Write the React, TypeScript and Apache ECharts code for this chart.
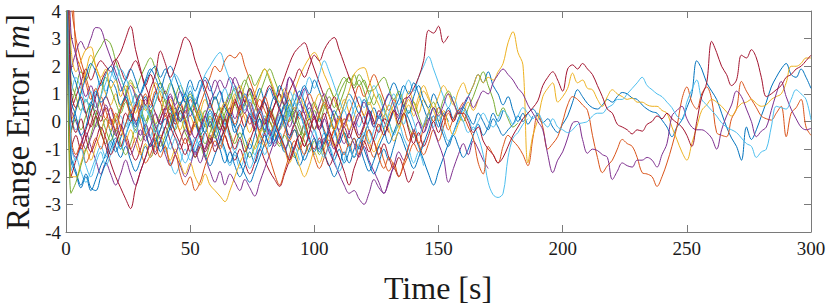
import React, { useEffect, useRef } from "react";
import * as echarts from "echarts";

// MATLAB default colour order
const BLUE = "#0072BD";
const ORANGE = "#D95319";
const YELLOW = "#EDB120";
const PURPLE = "#7E2F8E";
const GREEN = "#77AC30";
const CYAN = "#4DBEEE";
const RED = "#A2142F";

const TIME_STEP = 2; // seconds between samples
const X_MIN = 0;
const X_MAX = 300;
const X_INTERVAL = 50;
const Y_MIN = -4;
const Y_MAX = 4;
const Y_INTERVAL = 1;

// ---- long runs (0 - 300 s) ----
const longBlue = [
  9, 0.8, 0.2, -0.5, -0.2, 0.6, 1.1, 0.7, 0.9, 1.5,
  1.2, 0.6, 0.9, 0.3, -0.2, 0.2, -0.4, -0.9, -0.6, -1.1,
  -0.7, -0.2, 0.3, 0.0, 0.5, 0.9, 0.6, 1.2, 1.6, 1.3,
  0.8, 1.1, 0.5, 0.2, -0.4, -0.1, -0.6, -1.0, -0.5, 0.1,
  -0.3, 0.4, 0.9, 0.5, 0.0, -0.6, -0.3, -0.9, -1.4, -1.0,
  -0.6, -1.1, -0.7, -0.2, 0.4, 0.1, 0.6, 1.0, 0.7, 0.3,
  0.8, 0.4, -0.2, 0.2, -0.3, -0.8, -0.4, 0.1, 0.6, 0.3,
  0.9, 1.3, 0.8, 0.5, 1.0, 0.6, 0.2, 0.5, 0.1, 0.4,
  0.5, 0.2, -0.1, 0.3, 0.0, -0.3, 0.1, -0.2, -0.5, -0.3,
  -0.1, 0.2, 0.0, 0.3, 0.45, 0.2, -0.05, 0.1, -0.2, -0.4,
  -0.1, 0.2, 0.7, 1.15, 0.9, 0.65, 0.5, 0.45, 0.6, 0.8,
  0.7, 0.9, 1.05, 1.0, 0.85, 0.8, 0.6, 0.45, 0.35, 0.3,
  0.05, -0.2, -0.55, -0.2, 0.05, 0.5, 1.0, 2.2, 1.9, 1.4,
  1.1, 0.8, 0.3, -0.2, -0.6, -0.9, -1.4, -0.2, -0.65, -0.3,
  0.2, 0.7, 1.25, 1.6, 1.9, 2.1, 1.7, 1.6, 1.9, 1.6,
  1.2,
];
const longOrange = [
  10, -0.5, -1.2, -0.8, -1.5, -1.1, -0.6, -1.0, -0.4, 0.1,
  -0.3, 0.4, 0.8, 0.3, 0.6, 0.0, -0.5, -0.2, -0.8, -1.3,
  -0.9, -1.6, -1.2, -1.9, -2.3, -2.0, -2.5, -2.2, -1.6, -1.1,
  -0.7, -1.0, -0.4, 0.2, -0.1, 0.5, 0.9, 0.5, 0.1, -0.4,
  -0.8, -1.3, -1.9, -2.3, -1.8, -1.2, -0.7, -1.0, -0.5, 0.1,
  -0.3, 0.3, 0.7, 0.2, -0.3, 0.1, -0.5, -0.9, -0.6, -1.2,
  -0.8, -0.3, -0.7, -1.3, -1.7, -1.3, -1.6, -2.0, -1.5, -0.9,
  -0.4, -0.8, -0.2, 0.3, 0.0, 0.5, 0.2, -0.3, 0.1, 0.4,
  0.2, -0.2, -0.6, -1.5, -1.9, -0.9, -1.2, -1.5, -0.9, -0.5,
  -0.7, -0.9, -1.2, -1.6, -0.6, 0.3, -0.2, -1.0, -0.8, -0.55,
  0.0, 0.6, 0.9, 0.8, 0.6, 0.4, -0.5, -1.3, -1.85, -1.6,
  -1.4, -1.0, -0.65, -0.8, -0.9, -1.3, -1.85, -1.9, -2.0, -2.35,
  -2.0, -1.5, -0.9, -0.2, 0.8, 1.25, 0.7, 0.45, 1.0, 1.25,
  0.8, -0.4, -0.5, -0.55, 0.1, 0.45, 1.45, 1.1, 0.8, 0.5,
  0.2, 0.1, 0.05, 0.3, 0.55, -0.55, 0.3, 0.5, 0.8, -0.2,
  -0.5,
];
const longYellow = [
  8, 2.7, 1.8, 2.2, 2.6, 2.7, 2.0, 1.6, 1.9, 1.2,
  1.5, 0.9, 1.3, 0.7, 0.3, 0.8, 0.4, 0.9, 1.4, 1.0,
  0.5, 0.8, 0.2, -0.3, 0.1, -0.4, -0.1, 0.4, 0.0, -0.6,
  -0.2, 0.3, 0.7, 0.3, 0.9, 1.3, 0.9, 0.5, 1.0, 1.5,
  1.9, 1.6, 1.1, 0.7, 1.2, 0.8, 0.4, 0.9, 0.5, 0.1,
  0.6, 1.0, 0.6, 0.2, -0.3, 0.1, 0.6, 1.1, 1.7, 1.9,
  1.95, 1.5, 1.0, 0.6, 0.2, 0.6, 0.3, -0.2, 0.3, 0.8,
  0.4, 0.9, 1.3, 0.9, 0.5, 0.9, 1.3, 1.0, 0.6, 1.1,
  1.4, 1.0, 1.3, 1.7, 1.4, 1.6, 1.5, 1.8, 2.1, 2.85,
  3.25, 2.5, 2.05, -1.5, -0.5, 0.06, 0.9, 1.2, 1.4, 0.7,
  0.9, 1.2, 1.75, 1.4, 1.5, 1.2, 1.15, 0.8, 0.55, 0.9,
  1.15, 1.0, 0.9, 0.8, 0.85, 0.7, 0.7, 0.6, 0.55, 0.55,
  0.4, 0.3, -0.2, -0.65, -1.1, -1.4, -0.8, -0.2, 0.4, 0.6,
  0.8, 0.7, 0.55, 0.35, 0.2, 0.45, 0.65, 0.7, 0.8, 0.65,
  0.55, 0.6, 0.8, 0.9, 1.0, 1.4, 2.0, 2.0, 2.1, 2.3,
  2.3,
];
const longPurple = [
  9, 3.2, 2.4, 1.5, 0.9, 1.3, 0.7, 0.2, 0.6, 0.0,
  -0.5, -0.1, -0.7, -1.2, -0.8, -0.3, -0.7, -0.2, 0.3, -0.1,
  0.4, 0.9, 0.5, 0.0, 0.4, -0.2, -0.6, -0.3, 0.2, 0.7,
  1.1, 1.5, 1.2, 1.6, 1.3, 0.8, 0.3, 0.7, 0.2, -0.3,
  0.1, -0.5, -0.1, 0.5, 1.0, 1.6, 1.3, 0.8, 1.2, 0.7,
  0.2, -0.3, 0.1, -0.5, -1.0, -0.6, -0.1, 0.3, -0.2, 0.2,
  0.7, 0.3, -0.2, 0.2, 0.6, 1.0, 0.6, 0.1, 0.5, 0.9,
  0.5, 0.0, -0.4, 0.0, 0.5, 0.2, 0.6, 1.0, 0.7, 0.3,
  0.6, 0.9, 0.5, 0.8, 1.1, 1.0, 1.4, 1.7, 1.9, 1.7,
  1.5, 1.2, 1.0, 0.6, 0.3, 0.0, -0.3, -1.2, -1.85, -1.4,
  -1.1, -0.6, -0.05, 0.0, -0.65, -1.15, -1.0, -1.05, -1.2, -1.3,
  -2.1, -1.8, -1.5, -1.6, -1.65, -1.4, -1.4, -1.3, -1.4, -1.65,
  -1.2, -0.8, 0.2, 0.4, 0.55, 0.1, -0.2, -0.3, -0.3, -0.4,
  -0.6, -1.0, -0.3, 0.2, 0.6, 1.1, 0.9, 0.45, 0.0, -0.55,
  -0.35, -0.2, 0.4, 1.0, 1.45, 0.9, 0.45, 0.1, -0.2, -0.3,
  -0.25,
];
const longCyan = [
  11, -0.8, -1.4, -1.0, -1.6, -2.0, -1.5, -1.1, -1.6, -1.2,
  -0.7, -1.0, -0.5, 0.0, -0.4, 0.2, 0.6, 0.2, 0.7, 1.2,
  0.8, 1.3, 1.7, 1.4, 0.9, 1.3, 0.8, 1.2, 1.7, 2.0,
  2.3, 2.5, 2.0, 1.5, 1.1, 0.6, 1.0, 0.5, 0.0, 0.4,
  -0.1, -0.6, -0.3, 0.2, -0.2, 0.3, 0.7, 0.3, -0.2, -0.7,
  -0.3, -0.9, -1.3, -0.9, -1.4, -1.8, -1.4, -0.9, -1.3, -0.8,
  -0.4, -0.8, -0.3, 0.2, -0.2, 0.3, 0.7, 0.3, -0.1, 0.4,
  0.0, -0.5, -0.1, 0.3, -0.2, 0.2, -0.3, -0.7, -0.4, 0.0,
  0.4, 0.1, -0.3, 0.0, 0.3, 0.0, -0.2, 0.1, 0.4, 0.2,
  -0.1, 0.2, 0.5, 0.3, 0.1, 0.3, 0.0, -0.2, 0.1, -0.2,
  -0.3, -0.4, -0.3, -0.1, -0.05, 0.0, 0.2, 0.3, 0.3, 0.5,
  0.6, 0.8, 0.8, 1.0, 1.2, 1.4, 1.6, 1.3, 1.15, 1.0,
  0.9, 0.7, 0.5, 0.2, 0.06, 0.7, 1.15, 1.5, 0.8, 0.6,
  0.4, 0.2, -0.05, -0.2, -0.3, -0.4, -0.6, -0.8, -0.9, -1.3,
  -1.1, -1.0, -0.2, 0.55, 0.5, 0.45, 0.8, 1.15, 1.0, 0.8,
  0.06,
];
const longRed = [
  12, 0.3, -0.4, 0.1, -0.6, -1.1, -0.7, -0.2, -0.6, -1.2,
  -0.8, -0.3, 0.3, 0.0, 0.6, 1.0, 0.6, 1.2, 1.7, 2.55,
  2.1, 1.6, 2.0, 2.6, 3.05, 2.85, 2.2, 1.7, 1.2, 0.7,
  0.2, -0.3, 0.1, -0.5, -1.0, -0.6, -1.1, -0.7, -0.2, 0.3,
  -0.1, 0.4, 0.0, -0.5, -0.9, -1.4, -1.0, -0.5, -0.9, -0.4,
  0.2, -0.2, 0.3, -0.3, -0.8, -1.3, -1.8, -2.3, -1.7, -1.2,
  -0.7, -1.1, -0.6, -0.1, -0.5, 0.0, 0.4, -0.1, 0.3, -0.3,
  -0.8, -0.4, -0.9, -0.5, 0.0, -0.4, 0.1, 0.4, 0.0, 0.3,
  0.3, 0.0, -0.4, -0.2, -0.7, -1.0, -1.2, -1.5, -1.3, -0.9,
  -0.5, -0.2, 0.1, 0.3, 0.5, 0.75, 1.3, 1.6, 1.8, 1.5,
  1.1, 1.9, 2.05, 1.9, 2.1, 1.9, 1.7, 1.3, 0.9, 0.45,
  0.3, -0.1, -0.2, -0.3, -0.45, -0.3, -0.35, -0.1, 0.0, 0.2,
  0.1, 0.3, 0.1, -0.05, -0.2, -0.5, -0.9, 0.0, 0.9, 1.4,
  2.9, 2.5, 2.0, 1.7, 1.3, 1.5, 2.4, 2.3, 2.6, 2.3,
  1.6, 0.9, 1.0, 1.15, 1.3, 1.6, 1.7, 1.9, 2.0, 2.2,
  2.4,
];

// ---- medium runs (end 150 - 190 s) ----
const medCyan = [
  10, 1.0, 1.6, 1.2, 0.7, 1.1, 0.5, 0.9, 1.4, 1.8,
  1.5, 1.9, 1.6, 1.1, 0.6, 1.0, 0.5, 0.1, -0.4, 0.0,
  -0.5, -1.0, -0.6, -1.1, -1.5, -1.1, -0.6, -0.9, -0.4, 0.1,
  -0.3, 0.3, -0.1, -0.6, -1.1, -0.7, -1.2, -1.7, -1.3, -0.8,
  -1.2, -0.7, -0.2, 0.3, 0.0, 0.5, 1.0, 0.6, 1.1, 1.6,
  1.2, 1.7, 2.2, 1.8, 1.3, 0.8, 0.4, 0.8, 0.3, -0.2,
  0.2, -0.3, -0.7, -0.3, 0.2, 0.6, 1.0, 0.6, 1.1, 1.5,
  1.1, 1.6, 2.0, 2.35, 1.9, 1.4, 0.9, 0.5, 0.9, 0.4,
  0.0, -0.4, -0.2, -0.55, -1.2, -2.2, -2.65, -2.75, -2.6, -1.3,
  -0.6, -0.4, -0.1, 0.1,
];
const medGreen = [
  9, -2.6, -2.2, -1.6, -1.0, -0.5, 0.2, 0.9, 1.6, 1.2,
  0.7, 0.3, 0.7, 0.2, -0.3, 0.1, 0.6, 0.2, -0.4, -0.9,
  -0.5, 0.0, 0.5, 0.1, 0.6, 1.0, 0.5, 0.0, 0.4, -0.1,
  -0.6, -0.2, 0.3, 0.8, 1.2, 0.8, 1.3, 1.7, 1.3, 1.6,
  1.9, 1.5, 1.0, 0.5, 0.0, 0.4, -0.1, -0.5, -0.1, 0.3,
  0.7, 0.3, 0.8, 1.2, 0.9, 1.3, 1.6, 1.4, 1.7, 1.3,
  1.5, 1.1, 1.15, 1.4, 1.6, 1.2, 0.8, 1.1, 0.7, 0.3,
  0.7, 0.2, -0.2, 0.3, 0.7, 0.3, 0.8, 1.1, 0.7, 0.3,
  0.0, 0.5, 0.9, 1.4, 1.8, 1.3, 0.8, 0.2, 0.5, 0.1,
  -0.2, -0.05,
];
const medRed = [
  10, 1.2, 0.5, 0.9, 0.3, -0.2, 0.2, -0.4, -0.9, -1.5,
  -2.0, -2.4, -2.8, -3.15, -2.4, -1.8, -1.3, -0.8, -1.2, -0.7,
  -0.2, 0.3, -0.1, 0.4, 0.0, -0.5, -0.1, -0.6, -1.1, -0.7,
  -0.2, 0.2, -0.3, 0.3, 0.8, 0.4, 0.9, 0.5, 0.0, 0.4,
  0.9, 1.3, 0.9, 0.4, 0.0, -0.5, -0.1, 0.4, 0.0, -0.6,
  -1.0, -0.6, -1.1, -1.6, -1.2, -0.7, -0.2, -0.6, -0.1, 0.3,
  -0.1, 0.4, 0.0, -0.4, 0.1, 0.0, 0.4, 0.2, 0.8, 0.9,
  1.2, 1.6, 2.2, 3.3, 3.2, 3.45, 2.85, 3.1,
];
const medBlue = [
  11, -1.2, -1.8, -2.3, -1.9, -2.4, -2.5, -2.0, -1.5, -1.0,
  -0.6, -1.0, -0.5, 0.0, 0.5, 1.0, 1.5, 1.9, 1.6, 1.2,
  1.7, 2.0, 1.6, 1.1, 0.7, 1.1, 0.6, 0.1, -0.4, 0.0,
  -0.5, -1.0, -1.5, -1.1, -1.6, -2.0, -1.6, -1.1, -1.5, -1.0,
  -0.5, -0.9, -0.4, 0.1, 0.6, 0.2, 0.7, 1.1, 0.7, 0.2,
  -0.3, 0.1, -0.4, -0.9, -1.4, -1.0, -1.5, -1.1, -0.6, -1.0,
  -0.5, 0.0, 0.5, 0.1, 0.6, 1.0, 1.4, 1.0, 0.5, 0.1,
  -0.4, -0.9, -1.4, -1.9, -2.3, -1.8, -1.3, -0.8, -0.4, 0.1,
  0.5, 0.9, 1.3, 1.7, 1.4, 1.8, 1.3, 1.0, 0.6, 0.9,
  0.4, 0.0, 0.3, -0.1, 0.2,
];
const medPurple = [
  9, 1.9, 2.5, 2.9, 2.6, 3.0, 3.4, 3.35, 2.8, 2.3,
  1.8, 1.3, 0.8, 0.4, 0.0, -0.5, -0.1, -0.6, -1.1, -0.7,
  -1.2, -1.6, -1.2, -0.7, -0.3, -0.7, -1.2, -0.8, -1.3, -1.8,
  -2.2, -1.8, -2.3, -1.9, -2.2, -2.5, -2.1, -2.4, -2.7, -2.2,
  -1.7, -1.2, -0.7, -0.3, 0.2, -0.2, 0.3, 0.7, 0.3, -0.2,
  -0.6, -1.0, -0.6, -1.1, -1.5, -1.9, -2.3, -2.6, -2.5, -2.8,
  -3.0, -2.6, -2.1, -2.4, -2.6, -2.1, -1.6, -1.1, -1.4, -0.9,
  -0.4, 0.0, -0.4, 0.1, -0.3, -0.8, -1.3, -2.2, -1.7, -1.2,
  -0.8, -1.2, -0.7, -1.0, -1.4, -1.7,
];
const medOrange = [
  14, 7, 2.5, 1.9, 1.4, 0.8, 1.2, 0.6, 0.1, 0.5,
  0.0, -0.5, -0.1, 0.4, 0.0, 0.5, 1.0, 0.6, 1.1, 0.7,
  0.2, 0.6, 0.1, -0.4, -0.8, -0.4, 0.1, 0.6, 1.1, 1.6,
  2.0, 1.8, 2.2, 2.4, 2.3, 2.5, 2.0, 1.5, 1.0, 0.5,
  0.9, 0.4, -0.1, 0.3, -0.2, -0.7, -0.3, -0.8, -1.2, -0.8,
  -1.3, -1.7, -1.3, -0.8, -0.3, 0.2, -0.2, 0.3, 0.8, 1.3,
  0.9, 1.3, 1.7, 1.3, 0.8, 0.4, 0.8, 0.3, -0.2, -0.7,
  -0.3, -0.8, -1.2, -0.8, -0.3, -0.7, -0.2, 0.3, 0.0, 0.4,
  0.7,
];
const medBlue2 = [
  10, -0.3, 0.4, 1.0, 1.6, 2.1, 1.8, 1.3, 1.7, 2.0,
  1.6, 1.1, 1.5, 1.9, 1.5, 1.0, 1.4, 1.8, 2.0, 1.6,
  1.9, 1.5, 1.0, 0.6, 1.0, 0.5, 0.0, -0.5, -0.1, 0.4,
  0.0, -0.5, -1.0, -1.5, -1.1, -1.5, -1.9, -2.2, -1.8, -1.3,
  -0.8, -0.3, -0.7, -0.2, 0.3, 0.8, 0.4, 0.9, 1.3, 1.0,
  1.5, 1.1, 0.6, 0.2, -0.3, -0.8, -0.4, -0.9, -1.3, -0.9,
  -1.4, -1.8, -1.4, -0.9, -0.5, -0.1, 0.4, 0.8, 1.3, 1.0,
  1.4, 1.0, 0.5, 0.1, 0.5, 0.0, -0.5, -0.9, -0.5, -0.9,
  -1.3, -1.0, -0.5, -0.1, -0.5, -0.2, 0.3, 0.0, 0.4,
];
const medYellow = [
  12, -2.0, -2.0, -1.5, -1.0, -1.4, -0.9, -0.4, 0.1, -0.3,
  0.2, -0.2, -0.7, -0.3, -0.8, -1.2, -0.8, -1.3, -0.9, -0.5,
  -0.9, -1.4, -1.0, -1.5, -1.9, -1.5, -2.0, -2.3, -1.9, -2.3,
  -2.5, -2.7, -2.9, -2.5, -2.0, -1.5, -1.1, -0.6, -1.0, -0.5,
  0.0, 0.4, 0.0, -0.5, -1.0, -1.5, -1.1, -1.6, -2.0, -1.6,
  -1.1, -1.5, -1.0, -0.5, -0.9, -0.4, 0.1, -0.3, 0.2, 0.6,
  0.2, 0.7, 0.3, -0.2, 0.2, -0.3, -0.7, -0.3, 0.2, 0.6,
  0.2, 0.7, 1.1, 0.8, 0.4, 0.0, 0.4, -0.1, -0.5, -0.1,
  0.3, 0.7, 0.4, 0.8,
];

// ---- short runs (end 95 - 155 s) ----
const shortRedA = [
  9, 0.4, 0.9, 1.4, 1.9, 1.5, 1.9, 2.2, 2.0, 1.8,
  2.2, 2.5, 3.0, 3.45, 2.6, 1.9, 1.3, 1.7, 1.2, 0.7,
  1.1, 0.6, 0.2, 0.6, 0.1, -0.4, 0.0, -0.5, -1.0, -0.6,
  -1.1, -0.7, -0.2, 0.3, 0.7, 0.3, -0.2, 0.2, -0.3, -0.8,
  -0.4, 0.1, 0.6, 1.1, 1.6, 2.1, 2.5, 2.7, 2.85, 2.4,
  1.9, 1.4, 0.9, 0.5, 0.9, 0.4, -0.1, 0.3, -0.2, -0.6,
  -0.2, 0.3, -0.1, 0.4, 0.0, -0.4,
];
const shortGreenA = [
  8, 0.6, 1.2, 1.8, 1.5, 2.0, 2.4, 2.7, 2.97, 2.8,
  2.2, 1.6, 1.1, 0.6, 1.0, 0.5, 0.0, 0.4, -0.1, 0.3,
  0.8, 0.4, 0.9, 1.3, 0.9, 0.4, 0.8, 0.3, -0.2, 0.2,
  -0.3, 0.1, 0.6, 1.0, 0.6, 1.1, 1.5, 1.1, 0.6, 1.0,
  1.5, 1.9, 1.5, 1.0, 0.5, 0.0, 0.4, -0.1, -0.5, -0.1,
  0.4, 0.0, 0.5, 0.9, 0.5, 1.0, 1.4, 1.6, 1.3, 1.7,
  1.4, 1.0, 0.6, 1.0, 0.5, 0.0, -0.4, -0.1, 0.3, -0.2,
  -0.6,
];
const shortRedB = [
  10, -1.0, -0.5, -1.0, -0.6, -0.1, 0.4, 0.0, 0.5, 0.1,
  -0.4, -0.9, -0.5, -1.0, -1.4, -1.0, -0.5, -0.9, -0.4, 0.1,
  0.5, 0.1, -0.4, -0.8, -1.2, -0.8, -1.3, -0.9, -0.4, -0.8,
  -0.3, 0.2, 0.6, 0.2, 0.7, 1.1, 0.7, 1.2, 0.8, 0.3,
  0.7, 0.2, 0.6, 1.0, 0.6, 1.1, 1.5, 1.9, 1.6, 2.0,
  2.4, 2.2, 2.6, 2.9, 3.04, 2.6, 2.1, 1.6, 1.1, 0.6,
  0.2, -0.3, -0.7, -1.2, -0.8, -1.3, -1.7, -1.3, -1.7, -2.2,
  -1.8,
];
const shortOrange = [
  13, 4.5, 3.0, 2.2, 1.6, 1.0, 0.5, 0.9, 0.4, -0.1,
  0.3, -0.2, -0.6, -1.0, -0.6, -1.1, -1.5, -1.2, -0.7, -0.3,
  0.2, -0.2, 0.3, 0.7, 0.3, 0.8, 0.4, 0.0, -0.4, 0.0,
  -0.5, -0.9, -0.5, -1.0, -0.6, -0.1, 0.3, -0.1, 0.4, 0.8,
  0.4, 0.0, -0.4, -0.8, -0.4, 0.1, 0.5, 0.1, 0.6, 1.0,
  0.6, 0.2, -0.3, -0.7, -0.3, -0.8, -1.2, -0.8, -1.3, -0.9,
  -0.5, -0.9, -1.3, -0.9, -1.4, -1.8, -1.5, -2.0, -1.6, -1.2,
  -0.8, -1.1, -0.7,
];
const shortCyanA = [
  9, -1.8, -1.3, -1.8, -2.2, -1.8, -1.3, -0.9, -1.3, -0.8,
  -0.3, 0.2, -0.2, 0.3, 0.7, 0.3, -0.2, -0.6, -0.2, -0.7,
  -1.1, -0.7, -0.2, 0.3, -0.1, 0.4, 0.8, 0.4, -0.1, 0.3,
  -0.2, -0.7, -1.1, -1.6, -1.2, -1.7, -1.3, -0.8, -1.2, -0.7,
  -0.3, 0.2, 0.6, 1.0, 0.6, 1.1, 0.7, 0.2, 0.6, 0.1,
  -0.3, -0.8, -0.4, -0.9, -0.5, 0.0, 0.4, 0.0, 0.5, 0.9,
  0.5, 0.9, 1.3, 0.9, 0.4, 0.0, -0.5, -0.1, -0.6, -1.0,
  -1.5, -1.1, -1.6,
];
const shortPurpleA = [
  10, -0.8, -1.3, -0.9, -0.4, -0.9, -1.4, -1.9, -1.5, -1.9,
  -2.3, -1.9, -1.4, -1.9, -2.3, -1.8, -1.3, -0.8, -0.4, 0.1,
  0.5, 1.0, 0.6, 1.1, 0.7, 0.2, 0.6, 1.1, 1.5, 1.1,
  1.5, 1.1, 0.6, 1.0, 1.6, 1.2, 0.7, 0.2, -0.3, 0.1,
  -0.4, -0.8, -0.4, 0.1, 0.6, 1.6, 1.2, 0.8, 0.3, 0.7,
  0.2, -0.3, 0.1, 0.5, 0.1, -0.4, -0.8, -0.4, 0.0, -0.5,
  -0.1, 0.4, 0.0,
];
const shortYellow = [
  11, 0.0, 0.5, 1.1, 1.8, 2.4, 2.0, 1.5, 1.0, 0.6,
  1.0, 0.5, 0.9, 1.4, 1.0, 0.5, 0.0, 0.4, -0.1, -0.6,
  -0.2, -0.7, -1.1, -0.7, -0.2, 0.2, -0.2, 0.3, 0.8, 0.4,
  0.9, 0.5, 0.0, 0.5, 1.0, 0.6, 0.1, -0.4, 0.0, -0.5,
  -0.9, -0.5, 0.0, 0.5, 1.0, 0.6, 1.1, 1.6, 2.0, 2.3,
  2.5, 2.2, 1.7, 1.3, 0.8, 0.4, 0.8, 0.3, -0.2, -0.6,
  -0.2, -0.7, -1.1, -0.7, -0.3, 0.2, 0.6, 1.0, 0.6, 1.1,
  0.7, 0.3, 0.8, 0.4, 0.0, 0.3,
];
const shortBlueA = [
  12, -1.4, -1.9, -2.4, -2.0, -2.5, -2.1, -1.6, -1.2, -0.7,
  -1.1, -0.6, -0.1, 0.3, -0.1, 0.4, 0.9, 0.5, 1.0, 1.4,
  1.0, 0.5, 0.0, 0.4, -0.1, -0.6, -1.1, -0.7, -1.2, -1.6,
  -1.2, -0.7, -0.3, 0.2, -0.2, 0.3, 0.7, 1.2, 0.8, 1.2,
  0.7, 0.3, -0.2, -0.6, -1.1, -0.7, -1.2, -1.6, -1.2, -0.8,
  -1.2,
];
const shortGreenB = [
  9, 1.5, 0.9, 0.4, 0.8, 0.3, -0.2, 0.2, -0.3, -0.7,
  -0.3, -0.8, -1.2, -0.8, -0.3, -0.7, -0.2, 0.3, 0.7, 1.1,
  0.7, 0.2, -0.3, 0.1, -0.4, -0.8, -1.3, -0.9, -1.3, -0.8,
  -0.4, 0.1, -0.3, 0.2, 0.6, 0.2, 0.6, 1.0, 0.6, 0.1,
  -0.4, 0.0, -0.5, -0.9, -0.5, -0.9, -1.3, -0.9, -0.4, 0.1,
  -0.3, 0.2, 0.6, 0.2, -0.3, 0.1, -0.4, -0.8,
];
const shortRedC = [
  10, -2.0, -1.4, -0.8, -0.3, 0.3, 0.9, 1.4, 1.8, 2.0,
  2.25, 1.9, 1.5, 1.9, 2.2, 1.8, 1.3, 0.8, 0.3, -0.1,
  0.3, -0.2, -0.6, -1.0, -0.6, -1.1, -0.7, -0.2, 0.2, -0.2,
  0.3, -0.1, -0.5, -1.0, -1.4, -1.0, -1.5, -1.9, -1.5, -1.0,
  -1.4, -1.8, -2.1, -2.35, -1.9, -1.4, -0.9, -0.5, -0.9, -0.4,
  0.1, -0.3, -0.8, -0.4, -0.9, -1.3,
];
const shortCyanB = [
  10, 0.2, -0.3, 0.3, 0.8, 0.4, 1.0, 1.5, 1.1, 1.6,
  2.0, 1.6, 1.1, 0.6, 1.0, 0.5, 0.0, -0.5, -0.1, -0.6,
  -1.0, -1.5, -1.9, -1.5, -1.0, -1.4, -0.9, -0.4, 0.1, 0.6,
  0.2, 0.7, 1.2, 0.8, 1.3, 0.9, 0.4, 0.8, 0.3, -0.2,
  0.2, -0.3, -0.8, -0.4, -0.9, -1.3, -0.9, -1.4,
];
const shortPurpleB = [
  9, 0.5, 0.0, -0.5, -1.0, -0.6, -0.1, 0.4, 0.9, 0.5,
  0.0, 0.4, 0.9, 1.3, 0.9, 0.4, 0.8, 0.3, -0.2, -0.6,
  -0.2, -0.7, -1.2, -1.6, -2.0, -1.6, -1.1, -1.5, -1.0, -0.5,
  -0.9, -0.4, 0.1, 0.5, 0.1, 0.6, 1.0, 0.6, 0.1, 0.5,
  0.0, -0.4, -0.9, -0.5, -1.0, -0.6, -0.1, -0.5, 0.0, 0.5,
  0.1, 0.6, 1.0, 0.6, 0.2, -0.3, 0.1, -0.4, -0.8, -1.3,
  -0.9, -1.4, -1.8, -2.2, -2.6, -2.2, -1.7, -2.0,
];
const shortGreenC = [
  10, -0.4, 0.1, -0.3, 0.2, 0.6, 0.2, -0.3, -0.8, -0.4,
  0.1, 0.5, 1.0, 1.5, 1.2, 1.6, 2.0, 2.3, 1.9, 1.4,
  1.0, 1.4, 0.9, 0.5, 0.1, 0.5, 0.1, -0.4, -0.8, -0.4,
  0.1, 0.5, 0.1, -0.4, -0.8, -0.4, -0.9, -1.3, -0.9, -0.4,
  0.0, 0.5, 0.1, -0.3, 0.1, 0.6, 0.2, -0.3, -0.7, -1.1,
  -0.7, -1.2, -0.8, -0.3, 0.2, 0.6, 1.1, 1.6, 1.2, 1.5,
  1.1, 0.6, 1.0,
];
const shortBlueB = [
  11, 2.0, 1.4, 0.8, 0.3, 0.7, 0.2, -0.3, 0.1, -0.4,
  -0.9, -1.3, -0.9, -1.4, -1.8, -1.4, -0.9, -1.3, -0.8, -0.3,
  0.1, -0.3, 0.2, 0.6, 1.0, 1.5, 1.1, 1.5, 1.0, 0.5,
  0.9, 0.4, -0.1, 0.3, -0.2, -0.6, -0.2, 0.3, -0.1, 0.4,
  0.8, 1.2, 0.8, 1.3, 0.9, 0.4, -0.1, 0.3, -0.2, -0.7,
  -1.1, -0.7, -1.2, -1.6, -2.0, -1.6, -1.1, -1.5, -1.0, -0.6,
  -1.0, -1.5, -1.9, -1.5, -1.0, -1.4, -0.9, -0.4, -0.8, -1.3,
  -1.7, -1.3, -0.8, -0.3, 0.2, -0.2, 0.3, 0.0,
];

const RUNS: { color: string; values: number[] }[] = [
  { color: BLUE, values: shortBlueA },
  { color: ORANGE, values: shortOrange },
  { color: YELLOW, values: shortYellow },
  { color: PURPLE, values: shortPurpleA },
  { color: GREEN, values: shortGreenA },
  { color: CYAN, values: shortCyanA },
  { color: RED, values: shortRedA },
  { color: BLUE, values: shortBlueB },
  { color: GREEN, values: shortGreenB },
  { color: CYAN, values: shortCyanB },
  { color: PURPLE, values: shortPurpleB },
  { color: GREEN, values: shortGreenC },
  { color: RED, values: shortRedB },
  { color: RED, values: shortRedC },
  { color: BLUE, values: medBlue },
  { color: ORANGE, values: medOrange },
  { color: YELLOW, values: medYellow },
  { color: PURPLE, values: medPurple },
  { color: GREEN, values: medGreen },
  { color: CYAN, values: medCyan },
  { color: RED, values: medRed },
  { color: BLUE, values: medBlue2 },
  { color: BLUE, values: longBlue },
  { color: ORANGE, values: longOrange },
  { color: YELLOW, values: longYellow },
  { color: PURPLE, values: longPurple },
  { color: CYAN, values: longCyan },
  { color: RED, values: longRed },
];

const X_LABEL = "Time [s]";
const Y_LABEL_MAIN = "Range Error [";
const Y_LABEL_VAR = "m";

const FONT = '"Liberation Serif", "DejaVu Serif", serif';
const AXIS_COLOR = "#7a7a7a";
const TEXT_COLOR = "#1a1a1a";

const GRID = { left: 66, right: 19, top: 11, bottom: 74 };

export default function App() {
  const ref = useRef<HTMLDivElement>(null);

  useEffect(() => {
    if (!ref.current) return;
    const chart = echarts.init(ref.current, undefined, { renderer: "svg" });

    const axisLine = { show: true, onZero: false, lineStyle: { color: AXIS_COLOR, width: 1 } };
    const axisTick = { show: true, inside: true, length: 7, lineStyle: { color: AXIS_COLOR, width: 1 } };

    const series = RUNS.map((run) => ({
      type: "line",
      data: run.values.map((v, i) => [i * TIME_STEP, v]),
      showSymbol: false,
      symbol: "none",
      smooth: 0.35,
      clip: true,
      silent: true,
      lineStyle: { color: run.color, width: 1 },
      itemStyle: { color: run.color },
      xAxisIndex: 0,
      yAxisIndex: 0,
    }));

    chart.setOption({
      animation: false,
      backgroundColor: "#ffffff",
      grid: { ...GRID, containLabel: false },
      xAxis: [
        {
          type: "value",
          position: "bottom",
          min: X_MIN,
          max: X_MAX,
          interval: X_INTERVAL,
          axisLine,
          axisTick,
          splitLine: { show: false },
          axisLabel: { color: TEXT_COLOR, fontFamily: FONT, fontSize: 19, margin: 7 },
        },
        {
          type: "value",
          position: "top",
          min: X_MIN,
          max: X_MAX,
          interval: X_INTERVAL,
          axisLine,
          axisTick,
          splitLine: { show: false },
          axisLabel: { show: false },
        },
      ],
      yAxis: [
        {
          type: "value",
          position: "left",
          min: Y_MIN,
          max: Y_MAX,
          interval: Y_INTERVAL,
          axisLine,
          axisTick,
          splitLine: { show: false },
          axisLabel: { color: TEXT_COLOR, fontFamily: FONT, fontSize: 19, margin: 5 },
        },
        {
          type: "value",
          position: "right",
          min: Y_MIN,
          max: Y_MAX,
          interval: Y_INTERVAL,
          axisLine,
          axisTick,
          splitLine: { show: false },
          axisLabel: { show: false },
        },
      ],
      graphic: [
        {
          type: "text",
          x: 438,
          y: 288,
          silent: true,
          style: {
            text: X_LABEL,
            fill: TEXT_COLOR,
            fontFamily: FONT,
            fontSize: 32,
            align: "center",
            verticalAlign: "middle",
          },
        },
        {
          type: "text",
          x: 18,
          y: 122,
          rotation: Math.PI / 2,
          silent: true,
          style: {
            text: `{n|${Y_LABEL_MAIN}}{i|${Y_LABEL_VAR}}{n|]}`,
            align: "center",
            verticalAlign: "middle",
            rich: {
              n: { fill: TEXT_COLOR, fontFamily: FONT, fontSize: 33 },
              i: { fill: TEXT_COLOR, fontFamily: FONT, fontSize: 33, fontStyle: "italic" },
            },
          },
        },
      ],
      series,
    });

    return () => chart.dispose();
  }, []);

  return (
    <div
      ref={ref}
      style={{ position: "fixed", left: 0, top: 0, width: 830, height: 306, background: "#fff" }}
    />
  );
}
